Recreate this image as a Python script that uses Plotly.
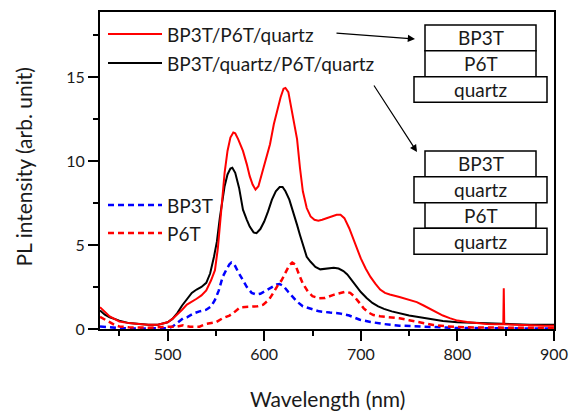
import plotly.graph_objects as go

# ---------------- data ----------------
wl_bilayer = [430, 435, 440, 450, 460, 470, 480, 490, 500, 505, 510, 515, 520, 525, 530, 535, 540, 545, 549, 552,
              554, 557, 559, 562, 565, 568, 570, 573, 576, 578, 582, 585, 588, 591, 594, 598, 602, 606, 610, 613,
              617, 620, 622, 625, 628, 631, 634, 637, 640, 644, 648, 652, 656, 660, 665, 670, 675, 679, 683, 688,
              692, 696, 700, 705, 710, 715, 720, 725, 730, 740, 750, 758, 765, 775, 785, 792, 800, 810, 820, 830,
              840, 847.5, 848, 848.5, 860, 870, 880, 890, 900]
pl_bilayer = [1.3, 1.0, 0.75, 0.45, 0.35, 0.3, 0.25, 0.25, 0.4, 0.6, 0.85, 1.15, 1.45, 1.6, 1.8, 2.0, 2.3, 2.9, 3.5, 4.8,
              6.1, 7.8, 9.3, 10.6, 11.4, 11.7, 11.65, 11.3, 10.9, 10.6, 9.8, 9.1, 8.6, 8.3, 8.5, 9.3, 10.1, 11.0, 12.2, 12.9,
              13.8, 14.3, 14.35, 14.1, 13.2, 12.2, 11.3, 9.6, 8.2, 7.2, 6.7, 6.5, 6.45, 6.5, 6.6, 6.7, 6.8, 6.8, 6.6, 6.0,
              5.4, 4.8, 4.2, 3.6, 3.1, 2.7, 2.35, 2.15, 2.05, 1.9, 1.75, 1.6, 1.4, 1.1, 0.8, 0.65, 0.5, 0.42, 0.35, 0.3,
              0.28, 0.28, 2.42, 0.28, 0.25, 0.22, 0.2, 0.2, 0.2]

wl_separated = [430, 435, 440, 450, 460, 470, 480, 490, 500, 505, 510, 515, 520, 525, 530, 535, 540, 544, 548, 551,
                554, 556, 559, 562, 565, 567, 570, 574, 578, 582, 585, 589, 592, 596, 600, 604, 608, 612, 616, 619,
                622, 626, 630, 634, 637, 641, 644, 648, 653, 658, 663, 668, 672, 677, 682, 686, 690, 695, 700, 706,
                712, 718, 724, 732, 740, 750, 758, 768, 775, 785, 800, 820, 850, 875, 900]
pl_separated = [1.1, 0.85, 0.7, 0.5, 0.35, 0.3, 0.25, 0.25, 0.4, 0.6, 0.95, 1.4, 1.8, 2.15, 2.35, 2.5, 2.75, 3.3, 4.3, 5.2,
                6.6, 7.5, 8.5, 9.2, 9.55, 9.6, 9.3, 8.4, 7.1, 6.5, 6.1, 5.75, 5.7, 5.95, 6.4, 7.0, 7.7, 8.2, 8.45, 8.45,
                8.2, 7.7, 7.0, 6.2, 5.6, 4.8, 4.3, 4.0, 3.7, 3.55, 3.6, 3.65, 3.65, 3.6, 3.45, 3.25, 2.95, 2.55, 2.2, 1.85,
                1.55, 1.35, 1.2, 1.05, 0.93, 0.8, 0.73, 0.62, 0.55, 0.47, 0.4, 0.35, 0.3, 0.25, 0.25]

wl_bp3t = [430, 440, 450, 470, 490, 500, 505, 510, 516, 520, 527, 533, 540, 545, 549, 553, 557, 561, 564, 566,
           569, 573, 578, 582, 587, 592, 596, 602, 608, 613, 616, 620, 625, 630, 634, 640, 648, 657, 668, 678,
           688, 699, 710, 723, 740, 758, 780, 800, 850, 900]
pl_bp3t = [0.15, 0.08, 0.05, 0.03, 0.03, 0.05, 0.14, 0.35, 0.64, 0.7, 0.93, 1.05, 1.15, 1.35, 1.73, 2.3, 3.1, 3.55, 3.85, 3.95,
           3.85, 3.4, 2.9, 2.5, 2.15, 2.05, 2.1, 2.3, 2.52, 2.65, 2.68, 2.55, 2.2, 1.85, 1.63, 1.35, 1.2, 1.05, 0.98, 0.93,
           0.8, 0.55, 0.42, 0.3, 0.2, 0.15, 0.1, 0.06, 0.04, 0.03]

wl_p6t = [430, 435, 440, 445, 450, 460, 480, 500, 510, 516, 523, 533, 540, 550, 557, 564, 568, 575, 580, 587,
          593, 599, 605, 610, 614, 618, 622, 626, 629, 632, 636, 640, 645, 650, 657, 663, 671, 678, 684, 689,
          693, 698, 703, 708, 713, 720, 727, 740, 750, 758, 767, 775, 790, 810, 850, 900]
pl_p6t = [0.72, 0.55, 0.4, 0.25, 0.15, 0.1, 0.08, 0.1, 0.15, 0.22, 0.14, 0.14, 0.3, 0.4, 0.64, 0.8, 0.95, 1.29, 1.3, 1.33,
          1.35, 1.45, 1.75, 2.2, 2.6, 2.9, 3.4, 3.8, 3.95, 3.85, 3.25, 2.7, 2.25, 1.95, 1.83, 1.85, 2.02, 2.15, 2.22, 2.15,
          1.95, 1.6, 1.23, 0.98, 0.83, 0.76, 0.73, 0.64, 0.52, 0.43, 0.33, 0.24, 0.15, 0.1, 0.08, 0.06]

legend_solid = ["BP3T/P6T/quartz", "BP3T/quartz/P6T/quartz"]
legend_dashed = ["BP3T", "P6T"]
stack1 = ["BP3T", "P6T", "quartz"]
stack2 = ["BP3T", "quartz", "P6T", "quartz"]

x_ticks = [500, 600, 700, 800, 900]
y_ticks = [0, 5, 10, 15]
x_title = "Wavelength (nm)"
y_title = "PL intensity (arb. unit)"

FONT = "Lato"
TXT = "#1a1a1a"

fig = go.Figure()
fig.add_trace(go.Scatter(x=wl_bp3t, y=pl_bp3t, mode="lines", name=legend_dashed[0],
                         line=dict(color="#0000FF", width=2.5, dash="6px,4px"), showlegend=False))
fig.add_trace(go.Scatter(x=wl_p6t, y=pl_p6t, mode="lines", name=legend_dashed[1],
                         line=dict(color="#FF0000", width=2.5, dash="6px,4px"), showlegend=False))
fig.add_trace(go.Scatter(x=wl_separated, y=pl_separated, mode="lines", name=legend_solid[1],
                         line=dict(color="#000000", width=2), showlegend=False))
fig.add_trace(go.Scatter(x=wl_bilayer, y=pl_bilayer, mode="lines", name=legend_solid[0],
                         line=dict(color="#FF0000", width=2), showlegend=False))

W, H = 570, 414
# plot area in window pixels: x 100..554, y 12..329
L, R, T, B = 100, 554, 12, 329
def px(x):
    return (x - L) / (R - L)
def py(y):
    return (B - y) / (B - T)

shapes = []
annos = []

# legend samples
leg_items = [(legend_solid[0], 34, "#FF0000", "solid"),
             (legend_solid[1], 63, "#000000", "solid"),
             (legend_dashed[0], 205, "#0000FF", "6px,4px"),
             (legend_dashed[1], 233, "#FF0000", "6px,4px")]
for text, yy, col, dash in leg_items:
    shapes.append(dict(type="line", xref="paper", yref="paper", x0=px(108), x1=px(162), y0=py(yy), y1=py(yy),
                       line=dict(color=col, width=2.5 if dash != "solid" else 2, dash=dash)))
    annos.append(dict(xref="paper", yref="paper", x=px(165), y=py(yy), text=text, showarrow=False,
                      xanchor="left", yanchor="middle", font=dict(family=FONT, size=19, color=TXT)))

# layer stacks
def add_box(x0, x1, y0, y1, text):
    shapes.append(dict(type="rect", xref="paper", yref="paper", x0=px(x0), x1=px(x1), y0=py(y1), y1=py(y0),
                       line=dict(color="#000000", width=1.5), fillcolor="white", layer="above"))
    annos.append(dict(xref="paper", yref="paper", x=px((x0 + x1) / 2), y=py((y0 + y1) / 2), text=text,
                      showarrow=False, xanchor="center", yanchor="middle",
                      font=dict(family=FONT, size=19, color=TXT)))

narrow = (425, 536)
wide = (414, 547)
rows1 = [25, 50.7, 76.7, 102.3]
for i, t in enumerate(stack1):
    xs = wide if t == "quartz" else narrow
    add_box(xs[0], xs[1], rows1[i], rows1[i + 1], t)
rows2 = [151, 176.7, 202.7, 228.3, 254.3]
for i, t in enumerate(stack2):
    xs = wide if t == "quartz" else narrow
    add_box(xs[0], xs[1], rows2[i], rows2[i + 1], t)

# arrows
annos.append(dict(xref="paper", yref="paper", x=px(415), y=py(39), ax=335 - 415, ay=33 - 39,
                  axref="pixel", ayref="pixel", text="", showarrow=True, arrowhead=2, arrowsize=1.2,
                  arrowwidth=1.2, arrowcolor="#000000"))
annos.append(dict(xref="paper", yref="paper", x=px(417), y=py(152), ax=373 - 417, ay=84 - 152,
                  axref="pixel", ayref="pixel", text="", showarrow=True, arrowhead=2, arrowsize=1.2,
                  arrowwidth=1.2, arrowcolor="#000000"))

# axis titles
annos.append(dict(xref="paper", yref="paper", x=px(327), y=py(398), text=x_title, showarrow=False,
                  xanchor="center", yanchor="middle", font=dict(family=FONT, size=21, color=TXT)))
annos.append(dict(xref="paper", yref="paper", x=px(22.5), y=py(167), text=y_title, showarrow=False,
                  textangle=-90, xanchor="center", yanchor="middle", font=dict(family=FONT, size=21, color=TXT)))

axis_common = dict(showline=True, linecolor="#000000", linewidth=2, mirror=True, showgrid=False, zeroline=False,
                   ticks="outside", ticklen=10, tickwidth=2, tickcolor="#000000", automargin=False,
                   tickfont=dict(family=FONT, size=16, color=TXT))

fig.update_layout(
    width=W, height=H,
    margin=dict(l=L, r=W - R, t=T, b=H - B),
    paper_bgcolor="white", plot_bgcolor="white",
    showlegend=False, hovermode=False,
    shapes=shapes, annotations=annos,
    xaxis=dict(range=[430, 900], tickvals=x_ticks,
               minor=dict(ticks="outside", ticklen=5, tickwidth=2, tickcolor="#000000", dtick=50, tick0=0),
               **axis_common),
    yaxis=dict(range=[0, 18.87], tickvals=y_ticks,
               minor=dict(ticks="outside", ticklen=5, tickwidth=2, tickcolor="#000000", dtick=2.5, tick0=0),
               **axis_common),
)

# remove the page's default 8px body margin so the 570x414 figure fills the window exactly
fig.write_html("out.html", config={"displayModeBar": False},
               post_script="document.body.style.margin='0px';document.body.style.overflow='hidden';")
